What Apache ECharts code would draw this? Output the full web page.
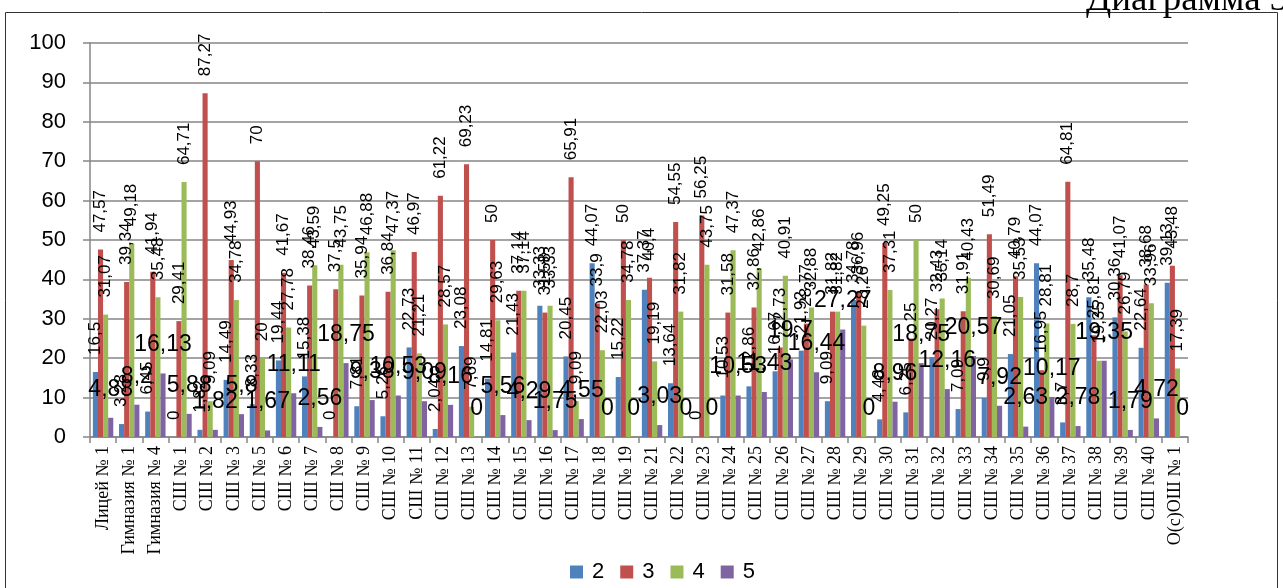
<!DOCTYPE html>
<html>
<head>
<meta charset="utf-8">
<script src="https://cdn.jsdelivr.net/npm/echarts@6/dist/echarts.min.js"></script>
<style>
html,body{margin:0;padding:0;background:#fff;}
#c{width:1283px;height:588px;}
</style>
</head>
<body>
<div id="c"></div>
<script>
var categories = ["Лицей № 1","Гимназия № 1","Гимназия № 4","СШ № 1","СШ № 2","СШ № 3","СШ № 5","СШ № 6","СШ № 7","СШ № 8","СШ № 9","СШ № 10","СШ № 11","СШ № 12","СШ № 13","СШ № 14","СШ № 15","СШ № 16","СШ № 17","СШ № 18","СШ № 19","СШ № 21","СШ № 22","СШ № 23","СШ № 24","СШ № 25","СШ № 26","СШ № 27","СШ № 28","СШ № 29","СШ № 30","СШ № 31","СШ № 32","СШ № 33","СШ № 34","СШ № 35","СШ № 36","СШ № 37","СШ № 38","СШ № 39","СШ № 40","О(с)ОШ № 1"];
var grade2 = [16.5,3.28,6.45,0,1.82,14.49,8.33,19.44,15.38,0,7.81,5.26,22.73,2.04,23.08,14.81,21.43,33.33,20.45,44.07,15.22,37.37,13.64,0,10.53,12.86,16.67,21.92,9.09,34.78,4.48,6.25,20.27,7.09,9.9,21.05,44.07,3.7,35.48,30.36,22.64,39.13];
var grade3 = [47.57,39.34,41.94,29.41,87.27,44.93,70,41.67,38.46,37.5,35.94,36.84,46.97,61.22,69.23,50,37.14,31.58,65.91,33.9,50,40.4,54.55,56.25,31.58,32.86,22.73,28.77,31.82,36.96,49.25,25,32.43,31.91,51.49,40.79,16.95,64.81,25.81,41.07,38.68,43.48];
var grade4 = [31.07,49.18,35.48,64.71,9.09,34.78,20,27.78,43.59,43.75,46.88,47.37,21.21,28.57,7.69,29.63,37.14,33.33,9.09,22.03,34.78,19.19,31.82,43.75,47.37,42.86,40.91,32.88,31.82,28.26,37.31,50,35.14,40.43,30.69,35.53,28.81,28.7,19.35,26.79,33.96,17.39];
var grade5 = [4.88,8.2,16.13,5.88,1.82,5.8,1.67,11.11,2.56,18.75,9.38,10.53,9.09,8.16,0,5.56,4.29,1.75,4.55,0,0,3.03,0,0,10.53,11.43,19.7,16.44,27.27,0,8.96,18.75,12.16,20.57,7.92,2.63,10.17,2.78,19.35,1.79,4.72,0];
var seriesNames = ["2","3","4","5"];
var yTicks = {min:0, max:100, interval:10};

function fmt(p){ return String(p.value).replace('.', ','); }
var rotLabel = {show:true, position:'top', distance:17, rotate:90, align:'left', verticalAlign:'middle',
  fontFamily:'Liberation Sans', fontSize:17, color:'#000', formatter:fmt};
var horLabel = {show:true, position:'top', distance:17, fontFamily:'Liberation Sans', fontSize:23, color:'#000', formatter:fmt};

var colors = ['#4F81BD','#C0504D','#9BBB59','#8064A2'];
var data = [grade2, grade3, grade4, grade5];
var series = data.map(function(d,i){
  return {name:seriesNames[i], type:'bar', data:d, barGap:'0%', barCategoryGap:'22%',
    itemStyle:{color:colors[i]}, label: i===3 ? horLabel : rotLabel, z: 2};
});

var chart = echarts.init(document.getElementById('c'));
chart.setOption({
  animation:false,
  backgroundColor:'#fff',
  color:colors,
  grid:{left:90, right:95, top:43, bottom:151, containLabel:false},
  legend:{left:565, top:556, itemWidth:13, itemHeight:13, itemGap:16, icon:'rect',
    textStyle:{fontFamily:'Liberation Sans', fontSize:22, color:'#000', padding:[0,0,0,4]},
    data:seriesNames},
  xAxis:{type:'category', data:categories,
    axisLine:{lineStyle:{color:'#868686', width:1.5}},
    axisTick:{show:true, length:6, inside:false, lineStyle:{color:'#868686', width:1.5}},
    axisLabel:{rotate:90, interval:0, margin:9, fontFamily:'Liberation Serif', fontSize:18, color:'#000'}},
  yAxis:{type:'value', min:yTicks.min, max:yTicks.max, interval:yTicks.interval,
    axisLine:{show:true, lineStyle:{color:'#868686', width:1.5}},
    axisTick:{show:true, length:7, lineStyle:{color:'#868686', width:1.5}},
    splitLine:{lineStyle:{color:'#868686', width:1.5}},
    axisLabel:{margin:24, fontFamily:'Liberation Sans', fontSize:22, color:'#000'}},
  graphic:[
    {type:'rect', shape:{x:5.5, y:12.5, width:1272, height:620}, style:{fill:null, stroke:'#333', lineWidth:1}, z:-1},
    {type:'text', left:1086, top:-18, style:{text:'Диаграмма 3', fontFamily:'Liberation Serif', fontSize:37, fill:'#000'}, z:10}
  ],
  series:series
});
</script>
</body>
</html>
